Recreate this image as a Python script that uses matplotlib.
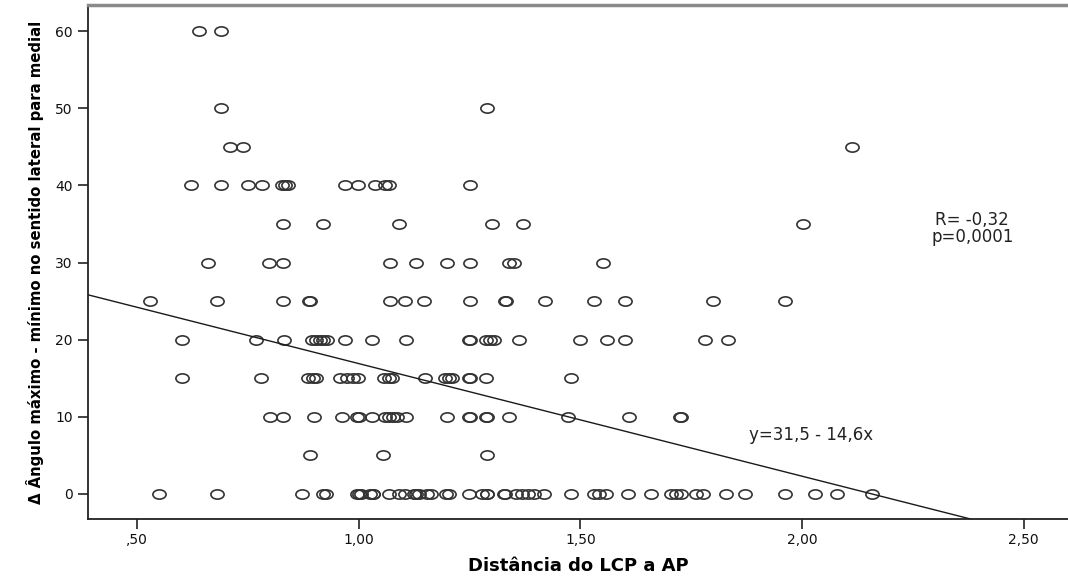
import matplotlib
matplotlib.use("Agg")
import matplotlib.pyplot as plt
from matplotlib.path import Path
from matplotlib.transforms import Affine2D
import numpy as np

# Distance of the LCP to AP (x) for each observed angle change level (y)
x_at_0 = [0.550, 0.680, 0.871, 0.920, 0.927, 0.997, 1.000, 1.006, 1.025, 1.031, 1.031,
          1.067, 1.090, 1.105, 1.124, 1.130, 1.135, 1.154, 1.162, 1.196, 1.203, 1.248,
          1.279, 1.290, 1.290, 1.328, 1.330, 1.354, 1.369, 1.381, 1.395, 1.418, 1.478,
          1.531, 1.543, 1.558, 1.607, 1.659, 1.705, 1.716, 1.727, 1.761, 1.776, 1.829,
          1.871, 1.961, 2.029, 2.078, 2.157]
x_at_5 = [0.890, 1.055, 1.290]
x_at_10 = [0.799, 0.829, 0.900, 0.962, 0.996, 1.000, 1.029, 1.060, 1.068, 1.078,
           1.087, 1.107, 1.200, 1.248, 1.250, 1.288, 1.290, 1.339, 1.471, 1.610,
           1.724, 1.726]
x_at_15 = [0.601, 0.779, 0.886, 0.896, 0.904, 0.958, 0.973, 0.988, 0.999, 1.057,
           1.067, 1.075, 1.150, 1.195, 1.203, 1.211, 1.248, 1.250, 1.288, 1.478]
x_at_20 = [0.601, 0.769, 0.831, 0.895, 0.904, 0.912, 0.920, 0.928, 0.968, 1.029,
           1.107, 1.248, 1.250, 1.288, 1.297, 1.305, 1.362, 1.500, 1.560, 1.601,
           1.780, 1.832]
x_at_25 = [0.530, 0.679, 0.830, 0.888, 0.890, 1.070, 1.105, 1.147, 1.251, 1.329,
           1.331, 1.420, 1.530, 1.601, 1.800, 1.961]
x_at_30 = [0.660, 0.798, 0.830, 1.070, 1.130, 1.200, 1.250, 1.339, 1.350, 1.550]
x_at_35 = [0.830, 0.920, 1.090, 1.301, 1.371, 2.001]
x_at_40 = [0.621, 0.690, 0.751, 0.781, 0.826, 0.834, 0.841, 0.969, 0.999, 1.037,
           1.060, 1.067, 1.250]
x_at_45 = [0.709, 0.739, 2.112]
x_at_50 = [0.690, 1.290]
x_at_60 = [0.640, 0.690]

angle_levels = [0, 5, 10, 15, 20, 25, 30, 35, 40, 45, 50, 60]
x_groups = [x_at_0, x_at_5, x_at_10, x_at_15, x_at_20, x_at_25, x_at_30,
            x_at_35, x_at_40, x_at_45, x_at_50, x_at_60]

# Fitted line reported on the chart
fit_intercept = 31.5
fit_slope = -14.6
r_text = "R= -0,32"
p_text = "p=0,0001"

x_ticks = [0.5, 1.0, 1.5, 2.0, 2.5]
x_tick_labels = [",50", "1,00", "1,50", "2,00", "2,50"]
y_ticks = [0, 10, 20, 30, 40, 50, 60]

xs = np.concatenate([np.asarray(g, dtype=float) for g in x_groups])
ys = np.concatenate([np.full(len(g), lvl, dtype=float) for g, lvl in zip(x_groups, angle_levels)])

fig = plt.figure(figsize=(10.68, 5.79), dpi=100)
ax = fig.add_axes([88 / 1068, 1 - 519 / 579, 1 - 88 / 1068, (519 - 5) / 579])

# Slightly flattened open circles
ellipse = Path.unit_circle().transformed(Affine2D().scale(1.0, 0.70))
ax.plot(xs, ys, linestyle="none", marker=ellipse, markersize=9.5,
        markerfacecolor="none", markeredgecolor="#333333", markeredgewidth=1.2)

x_lo, x_hi = 0.389, 2.60
y_lo, y_hi = -3.25, 63.4
line_x = np.array([x_lo, x_hi])
ax.plot(line_x, fit_intercept + fit_slope * line_x, color="#1a1a1a", linewidth=1.0)

ax.set_xlim(x_lo, x_hi)
ax.set_ylim(y_lo, y_hi)

ax.set_xticks(x_ticks)
ax.set_xticklabels(x_tick_labels)
ax.set_yticks(y_ticks)
ax.tick_params(axis="both", direction="out", length=7, width=1.2, color="#222222",
               labelsize=10, labelcolor="#111111")
ax.tick_params(axis="x", pad=3)
ax.tick_params(axis="y", pad=4)

for side in ("left", "bottom"):
    ax.spines[side].set_color("#222222")
    ax.spines[side].set_linewidth(1.3)
ax.spines["top"].set_color("#8a8a8a")
ax.spines["top"].set_linewidth(2.5)
ax.spines["right"].set_visible(False)

ax.set_xlabel("Distância do LCP a AP", fontsize=13, fontweight="bold", labelpad=7)
ax.set_ylabel("Δ Ângulo máximo - mínimo no sentido lateral para medial",
              fontsize=10.7, fontweight="bold", labelpad=8)

ax.text(2.384, 34.4, r_text + "\n" + p_text, ha="center", va="center",
        fontsize=12, linespacing=0.95, color="#222222")
ax.text(1.881, 7.7, "y=31,5 - 14,6x", ha="left", va="center",
        fontsize=12, color="#222222")

fig.savefig("out.png", dpi=100)
